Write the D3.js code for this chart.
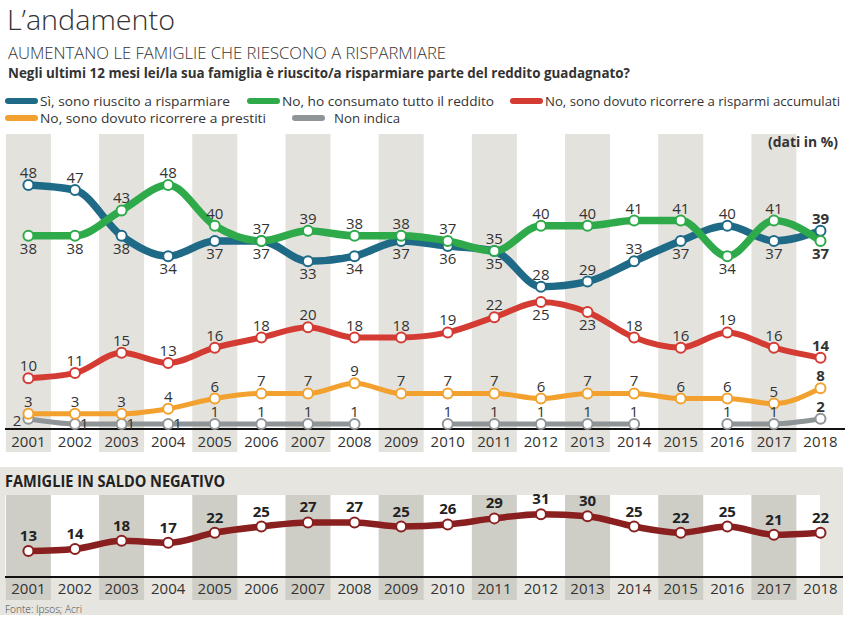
<!DOCTYPE html>
<html><head><meta charset="utf-8">
<script src="https://cdn.jsdelivr.net/npm/d3@7"></script>
<style>
html,body{margin:0;padding:0;background:#fff;}
svg text{font-family:"Open Sans","Noto Sans",sans-serif;}
</style></head>
<body>
<svg id="c" width="849" height="617"></svg>
<script>
const years = [2001,2002,2003,2004,2005,2006,2007,2008,2009,2010,2011,2012,2013,2014,2015,2016,2017,2018];
const siRisparmio = [48,47,38,34,37,37,33,34,37,36,35,28,29,33,37,40,37,39];
const consumato   = [38,38,43,48,40,37,39,38,38,37,35,40,40,41,41,34,41,37];
const risparmiAcc = [10,11,15,13,16,18,20,18,18,19,22,25,23,18,16,19,16,14];
const prestiti    = [3,3,3,4,6,7,7,9,7,7,7,6,7,7,6,6,5,8];
const nonIndica   = [2,1,1,1,1,1,1,1,null,1,1,1,1,1,null,1,1,2];
const saldoNegativo = [13,14,18,17,22,25,27,27,25,26,29,31,30,25,22,25,21,22];
// label side: 1 = above, -1 = below
const siSide  = [1,1,-1,-1,-1,-1,-1,-1,-1,-1,-1,1,1,1,-1,1,-1,1];
const conSide = [-1,-1,1,1,1,1,1,1,1,1,1,1,1,1,1,-1,1,-1];
const accSide = [1,1,1,1,1,1,1,1,1,1,1,-1,-1,1,1,1,1,1];
const seriesNames = ["Sì, sono riuscito a risparmiare","No, ho consumato tutto il reddito","No, sono dovuto ricorrere a risparmi accumulati","No, sono dovuto ricorrere a prestiti","Non indica"];

const C = {blue:"#1f6a87", green:"#2eaa4a", red:"#d33b33", orange:"#f2a12e", gray:"#8f9497", dark:"#8a1f1f"};
const svg = d3.select("#c");

const x = d3.scalePoint().domain(years).range([28.4, 820.5]);
const bw = 45;
const yTop = d3.scaleLinear().domain([0,48]).range([429,185]);
const yBot = d3.scaleLinear().domain([13,31]).range([551,514.3]);

// Titles
svg.append("text").attr("x",7).attr("y",30).attr("font-size",28).attr("font-weight",300).attr("fill","#333")
  .attr("textLength",168).attr("lengthAdjust","spacingAndGlyphs").text("L’andamento");
svg.append("text").attr("x",8).attr("y",59).attr("font-size",16.5).attr("font-weight",300).attr("fill","#333")
  .attr("textLength",438).attr("lengthAdjust","spacingAndGlyphs").text("AUMENTANO LE FAMIGLIE CHE RIESCONO A RISPARMIARE");
svg.append("text").attr("x",8).attr("y",78).attr("font-size",14).attr("font-weight",700).attr("fill","#333")
  .attr("textLength",622).attr("lengthAdjust","spacingAndGlyphs").text("Negli ultimi 12 mesi lei/la sua famiglia è riuscito/a risparmiare parte del reddito guadagnato?");

// Legend
const legend = [
  {c:C.blue, x:5, y:101, tx:40, tw:190, t:seriesNames[0]},
  {c:C.green, x:247, y:101, tx:282, tw:212, t:seriesNames[1]},
  {c:C.red, x:510, y:101, tx:545, tw:295, t:seriesNames[2]},
  {c:C.orange, x:5, y:118, tx:40, tw:226, t:seriesNames[3]},
  {c:C.gray, x:292, y:118, tx:334, tw:66, t:seriesNames[4]}
];
legend.forEach(l=>{
  svg.append("line").attr("x1",l.x+3).attr("x2",l.x+30).attr("y1",l.y).attr("y2",l.y)
    .attr("stroke",l.c).attr("stroke-width",6).attr("stroke-linecap","round");
  svg.append("text").attr("x",l.tx).attr("y",l.y+5).attr("font-size",13).attr("fill","#333")
    .attr("textLength",l.tw).attr("lengthAdjust","spacingAndGlyphs").text(l.t);
});

// Top chart bands
const gTop = svg.append("g");
gTop.selectAll("rect.band").data(years.filter((d,i)=>i%2===0)).join("rect")
  .attr("x",d=>x(d)-bw/2).attr("width",bw).attr("y",134).attr("height",318).attr("fill","#e3e2dd");

svg.append("text").attr("x",838).attr("y",147).attr("text-anchor","end").attr("font-size",14).attr("font-weight",700)
  .attr("fill","#333").attr("textLength",70).attr("lengthAdjust","spacingAndGlyphs").text("(dati in %)");

gTop.append("line").attr("x1",5).attr("x2",845).attr("y1",429).attr("y2",429).attr("stroke","#111").attr("stroke-width",2);

// year labels
gTop.selectAll("text.yr").data(years).join("text").attr("x",d=>x(d)).attr("y",447).attr("text-anchor","middle")
  .attr("font-size",15).attr("font-weight",400).attr("fill","#333").text(d=>d);

const lineGen = (yS)=> d3.line().defined(d=>d.v!=null).x(d=>x(d.year)).y(d=>yS(d.v)).curve(d3.curveMonotoneX);
const toPts = arr => arr.map((v,i)=>({year:years[i], v, i}));

const topSeries = [
  {data:nonIndica, c:C.gray, w:5},
  {data:prestiti, c:C.orange, w:5},
  {data:risparmiAcc, c:C.red, w:6},
  {data:siRisparmio, c:C.blue, w:7.5},
  {data:consumato, c:C.green, w:7.5}
];
topSeries.forEach(s=>{
  gTop.append("path").datum(toPts(s.data)).attr("d",lineGen(yTop)).attr("fill","none")
    .attr("stroke",s.c).attr("stroke-width",s.w).attr("stroke-linecap","round");
});
topSeries.forEach(s=>{
  gTop.selectAll(null).data(toPts(s.data).filter(d=>d.v!=null)).join("circle")
    .attr("cx",d=>x(d.year)).attr("cy",d=>yTop(d.v)).attr("r",5)
    .attr("fill","#fff").attr("stroke",s.c).attr("stroke-width",2);
});

function labels(arr, sides){
  gTop.selectAll(null).data(toPts(arr)).join("text")
    .attr("x",d=>x(d.year)).attr("y",d=>yTop(d.v) + (sides[d.i]>0 ? -7 : 18))
    .attr("text-anchor","middle").attr("font-size",15).attr("fill","#333")
    .attr("font-weight",d=>d.i===years.length-1?700:400).text(d=>d.v);
}
labels(siRisparmio, siSide);
labels(consumato, conSide);
labels(risparmiAcc, accSide);
labels(prestiti, prestiti.map(()=>1));
// gray labels
gTop.selectAll(null).data(toPts(nonIndica).filter(d=>d.v!=null)).join("text")
  .attr("x",d=> d.i===0 ? x(d.year)-7 : (d.i<=3 ? x(d.year)+5 : x(d.year)))
  .attr("y",d=> d.i===0 ? yTop(d.v)+7 : (d.i<=3 ? yTop(d.v)+5 : yTop(d.v)-7))
  .attr("text-anchor",d=> d.i===0 ? "end" : (d.i<=3 ? "start" : "middle"))
  .attr("font-size",15).attr("fill","#333")
  .attr("font-weight",d=>d.i===years.length-1?700:400).text(d=>d.v);

// Bottom panel
const gBot = svg.append("g");
gBot.append("rect").attr("x",0).attr("y",467).attr("width",843).attr("height",148).attr("fill","#e6e5e0");
gBot.append("rect").attr("x",5).attr("y",495).attr("width",815).attr("height",82).attr("fill","#fff");
gBot.selectAll(null).data(years.filter((d,i)=>i%2===0)).join("rect")
  .attr("x",d=>x(d)-bw/2).attr("width",bw).attr("y",495).attr("height",105).attr("fill","#cfcec6");
gBot.append("text").attr("x",5).attr("y",487).attr("font-size",16).attr("font-weight",700).attr("fill","#222")
  .attr("textLength",220).attr("lengthAdjust","spacingAndGlyphs").text("FAMIGLIE IN SALDO NEGATIVO");
gBot.append("line").attr("x1",5).attr("x2",843).attr("y1",577).attr("y2",577).attr("stroke","#111").attr("stroke-width",2);
gBot.selectAll(null).data(years).join("text").attr("x",d=>x(d)).attr("y",594).attr("text-anchor","middle")
  .attr("font-size",15).attr("font-weight",400).attr("fill","#333").text(d=>d);
const sp = toPts(saldoNegativo);
gBot.append("path").datum(sp).attr("d",lineGen(yBot)).attr("fill","none").attr("stroke",C.dark).attr("stroke-width",6.5).attr("stroke-linecap","round");
gBot.selectAll(null).data(sp).join("circle").attr("cx",d=>x(d.year)).attr("cy",d=>yBot(d.v)).attr("r",5)
  .attr("fill","#fff").attr("stroke",C.dark).attr("stroke-width",2);
gBot.selectAll(null).data(sp).join("text").attr("x",d=>x(d.year)).attr("y",d=>yBot(d.v)-10).attr("text-anchor","middle")
  .attr("font-size",15).attr("font-weight",700).attr("fill","#222").text(d=>d.v);

svg.append("text").attr("x",5).attr("y",613).attr("font-size",11).attr("font-weight",300).attr("fill","#444")
  .attr("textLength",77).attr("lengthAdjust","spacingAndGlyphs").text("Fonte: Ipsos; Acri");
</script>
</body></html>
